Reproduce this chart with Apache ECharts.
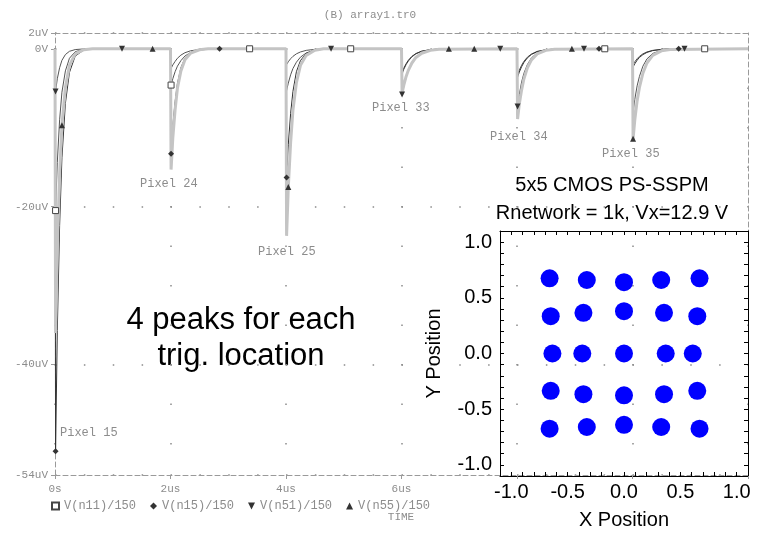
<!DOCTYPE html>
<html><head><meta charset="utf-8">
<script src="https://cdn.jsdelivr.net/npm/echarts@6/dist/echarts.min.js"></script>
<style>html,body{margin:0;padding:0;background:#fff}#c{width:762px;height:539px}</style>
</head><body><div id="c"></div>
<script>
// time axis (us)
const timeUs = [
  0,0.01,0.04,0.08,0.12,0.18,0.25,0.35,0.5,0.65,
  2,2.01,2.04,2.08,2.12,2.18,2.25,2.35,2.5,2.65,
  4,4.01,4.04,4.08,4.12,4.18,4.25,4.35,4.5,4.65,
  6,6.01,6.04,6.08,6.12,6.18,6.25,6.35,6.5,6.65,
  8,8.01,8.04,8.08,8.12,8.18,8.25,8.35,8.5,8.65,
  10,10.01,10.04,10.08,10.12,10.18,10.25,10.35,10.5,10.65,
  12
];
// voltages (uV)
const vN11 = [
  0,-20.5,-14.4,-9.0,-5.5,-2.8,-1.2,-0.37,-0.06,0,
  0,-4.6,-3.8,-2.9,-2.2,-1.5,-0.92,-0.46,-0.17,-0.05,
  0,-5.3,-4.35,-3.3,-2.5,-1.7,-1.06,-0.53,-0.2,-0.05,
  0,-3.2,-2.6,-2.0,-1.54,-1.02,-0.64,-0.32,-0.12,-0.03,
  0,-3.3,-2.7,-2.08,-1.58,-1.06,-0.66,-0.33,-0.12,-0.03,
  0,-2.0,-1.64,-1.26,-0.96,-0.64,-0.4,-0.2,-0.07,-0.02,
  0
];
const vN15 = [
  0,-51,-35.7,-22.4,-13.8,-6.9,-3.0,-0.92,-0.15,0,
  0,-13.3,-9.8,-6.7,-4.4,-2.4,-1.2,-0.47,-0.1,0,
  0,-16.3,-12.1,-8.2,-5.4,-2.9,-1.5,-0.57,-0.13,0,
  0,-3.0,-2.46,-1.9,-1.44,-0.96,-0.6,-0.3,-0.11,-0.03,
  0,-3.6,-2.95,-2.27,-1.73,-1.15,-0.72,-0.36,-0.13,-0.04,
  0,-2.3,-1.9,-1.45,-1.1,-0.74,-0.46,-0.23,-0.085,-0.02,
  0
];
const vN51 = [
  0,-5.4,-3.8,-2.4,-1.46,-0.73,-0.32,-0.1,-0.02,0,
  0,-2.5,-2.05,-1.6,-1.2,-0.8,-0.5,-0.25,-0.09,-0.02,
  0,-2.0,-1.64,-1.26,-0.96,-0.64,-0.4,-0.2,-0.07,-0.02,
  0,-5.8,-4.75,-3.65,-2.8,-1.86,-1.16,-0.58,-0.21,-0.06,
  0,-7.3,-5.8,-4.2,-3.1,-2.0,-1.15,-0.53,-0.17,-0.05,
  0,-8.1,-6.4,-4.7,-3.5,-2.2,-1.28,-0.59,-0.19,-0.06,
  0
];
const vN55 = [
  0,-36,-25.2,-15.8,-9.7,-4.9,-2.1,-0.65,-0.11,0,
  0,-15.3,-11.3,-7.7,-5.0,-2.8,-1.4,-0.54,-0.12,0,
  0,-23.7,-17.5,-11.9,-7.8,-4.3,-2.1,-0.83,-0.19,0,
  0,-5.6,-4.6,-3.5,-2.7,-1.8,-1.1,-0.56,-0.2,-0.06,
  0,-8.9,-7.0,-5.2,-3.8,-2.4,-1.4,-0.65,-0.2,-0.06,
  0,-11.4,-9.0,-6.6,-4.9,-3.1,-1.8,-0.83,-0.26,-0.08,
  0
];
// trace markers [time us, uV]
const marksN11 = [[0.01,-20.5],[2.01,-4.6],[3.37,0],[5.12,0],[9.52,0],[11.25,0]];
const marksN15 = [[0.01,-51],[2.01,-13.3],[2.85,0],[4.01,-16.3],[9.42,0],[10.8,0]];
const marksN51 = [[0.01,-5.4],[1.16,0],[4.78,0],[6.01,-5.8],[7.71,0],[8.01,-7.3],[9.16,0],[10.9,0]];
const marksN55 = [[0.12,-9.7],[1.69,0],[4.04,-17.5],[6.82,0],[7.26,0],[8.95,0],[10.01,-11.4]];
const seriesNames = ['V(n11)/150','V(n15)/150','V(n51)/150','V(n55)/150'];
const yTickValues = [2, 0, -20, -40, -54];
const xLabelMax = 6;
// inset: reconstructed positions
const posX = [-0.66,-0.33,0.0,0.33,0.67, -0.65,-0.36,0,0.355,0.65, -0.635,-0.37,0,0.37,0.61, -0.65,-0.36,0,0.355,0.65, -0.66,-0.33,0,0.33,0.67];
const posY = [0.675,0.66,0.64,0.66,0.675, 0.335,0.365,0.38,0.365,0.335, 0,0,0,0,0, -0.335,-0.365,-0.375,-0.365,-0.335, -0.675,-0.66,-0.64,-0.66,-0.675];
const insetTicks = [-1,-0.5,0,0.5,1];
const pixelLabels = ['Pixel 15','Pixel 24','Pixel 25','Pixel 33','Pixel 34','Pixel 35'];

const zip = (a) => timeUs.map((t,i)=>[t, a[i]]);
const mono = '"Liberation Mono", "DejaVu Sans Mono", monospace';
const sans = '"Liberation Sans", Arial, sans-serif';
const gray = '#8c8c8c';

const chart = echarts.init(document.getElementById('c'));
const lineStyles = [
  {color:'#555', width:1},
  {color:'#333', width:1},
  {color:'#555', width:1},
  {color:'#c4c4c4', width:3}
];
const vals = [vN11, vN15, vN51, vN55];
const marks = [marksN11, marksN15, marksN51, marksN55];
const syms = ['rect','diamond','triangle','triangle'];
const rots = [0,0,180,0];
const legendIcons = ['rect','diamond','path://M0,0L10,0L5,10Z','triangle'];

const series = [];
vals.forEach((v,i)=>{
  series.push({
    type:'line', name: seriesNames[i]+' trace', xAxisIndex:0, yAxisIndex:0,
    data: zip(v), showSymbol:false, lineStyle: lineStyles[i], z: i===3?4:3,
    silent:true
  });
});
marks.forEach((m,i)=>{
  series.push({
    type:'scatter', name: seriesNames[i], xAxisIndex:0, yAxisIndex:0,
    data: m, symbol: syms[i], symbolRotate: rots[i], symbolSize: 6, z:5,
    itemStyle: i===0 ? {color:'#fff', borderColor:'#444', borderWidth:1, opacity:1} : {color:'#333', opacity:1}
  });
});
series.push({
  type:'scatter', name:'positions', xAxisIndex:2, yAxisIndex:2,
  data: posX.map((x,i)=>[x,posY[i]]), symbolSize:18, itemStyle:{color:'#0000ff', opacity:1}, z:6
});

const pixelPos = [[60,433],[140,184],[258,252],[372,108],[490,137],[602,154]];
const graphics = pixelLabels.map((t,i)=>({
  type:'text', x:pixelPos[i][0], y:pixelPos[i][1],
  style:{text:t, fill:gray, font:'12px '+mono, verticalAlign:'middle', align:'left'}
}));
graphics.push({type:'text', x:370, y:15, style:{text:'(B) array1.tr0', fill:gray, font:'11px '+mono, align:'center', verticalAlign:'middle'}});
graphics.push({type:'text', x:401, y:517, style:{text:'TIME', fill:gray, font:'11px '+mono, align:'center', verticalAlign:'middle'}});
graphics.push({type:'text', x:241, y:302, style:{text:'4 peaks for each\ntrig. location', fill:'#000', font:'31px '+sans, align:'center', lineHeight:36}});
graphics.push({type:'text', x:612, y:185, style:{text:'5x5 CMOS PS-SSPM', fill:'#000', font:'20px '+sans, align:'center', verticalAlign:'middle'}});
graphics.push({type:'text', x:612, y:213, style:{text:'Rnetwork = 1k, Vx=12.9 V', fill:'#000', font:'20px '+sans, align:'center', verticalAlign:'middle'}});

const dashed = {color:'#9a9a9a', type:[5,3], width:1};
const option = {
  animation:false,
  backgroundColor:'#fff',
  grid:[
    {left:55, top:33, width:693, height:442},
    {left:500, top:231, width:248, height:245}
  ],
  legend:{
    data: seriesNames.map((n,i)=>({name:n, icon:legendIcons[i]})),
    left:46, top:495, itemWidth:7, itemHeight:7, itemGap:14,
    textStyle:{fontFamily:mono, fontSize:12, color:gray},
    selectedMode:false
  },
  xAxis:[
    {gridIndex:0, type:'value', min:0, max:12, interval:2, position:'bottom',
     axisLine:{onZero:false, lineStyle:dashed}, axisTick:{length:4, lineStyle:{color:'#9a9a9a'}},
     axisLabel:{fontFamily:mono, fontSize:11, color:gray, margin:9,
       formatter:(v)=> v===0 ? '0s' : (v<=xLabelMax ? v+'us' : '')},
     splitLine:{show:true, lineStyle:{color:'#8a8a8a', width:1.5, type:[1.5,38], dashOffset:24.5}}},
    {gridIndex:0, type:'value', min:0, max:12, position:'top',
     axisLine:{onZero:false, lineStyle:dashed}, axisTick:{show:false}, axisLabel:{show:false}, splitLine:{show:false}},
    {gridIndex:1, type:'value', min:-1.1, max:1.1, interval:0.1, position:'bottom',
     axisLine:{onZero:false, lineStyle:{color:'#000'}}, axisTick:{inside:true, length:4, lineStyle:{color:'#000'}},
     axisLabel:{customValues:insetTicks, formatter:(v)=>v.toFixed(1), fontFamily:sans, fontSize:20, color:'#000', margin:6},
     splitLine:{show:false},
     name:'X Position', nameLocation:'middle', nameGap:34, nameTextStyle:{fontFamily:sans, fontSize:20, color:'#000'}},
    {gridIndex:1, type:'value', min:-1.1, max:1.1, interval:0.1, position:'top',
     axisLine:{onZero:false, lineStyle:{color:'#000'}}, axisTick:{inside:true, length:4, lineStyle:{color:'#000'}},
     axisLabel:{show:false}, splitLine:{show:false}}
  ],
  yAxis:[
    {gridIndex:0, type:'value', min:-54, max:2, position:'left',
     axisLine:{show:true, onZero:false, lineStyle:dashed}, axisTick:{show:true, customValues:yTickValues, length:4, lineStyle:{color:'#9a9a9a'}},
     axisLabel:{customValues:yTickValues, fontFamily:mono, fontSize:11, color:gray, margin:7,
       formatter:(v)=> v===0 ? '0V' : v+'uV'},
     splitLine:{show:true, lineStyle:{color:'#8a8a8a', width:1.5, type:[1.5,27.375]}}},
    {gridIndex:0, type:'value', min:-54, max:2, position:'right',
     axisLine:{show:true, onZero:false, lineStyle:dashed}, axisTick:{show:false}, axisLabel:{show:false}, splitLine:{show:false}},
    {gridIndex:1, type:'value', min:-1.1, max:1.1, interval:0.1, position:'left',
     axisLine:{show:true, onZero:false, lineStyle:{color:'#000'}}, axisTick:{show:true, inside:true, length:4, lineStyle:{color:'#000'}},
     axisLabel:{customValues:insetTicks, formatter:(v)=>v.toFixed(1), fontFamily:sans, fontSize:20, color:'#000', margin:8},
     splitLine:{show:false},
     name:'Y Position', nameLocation:'middle', nameGap:56, nameTextStyle:{fontFamily:sans, fontSize:20, color:'#000'}},
    {gridIndex:1, type:'value', min:-1.1, max:1.1, interval:0.1, position:'right',
     axisLine:{show:true, onZero:false, lineStyle:{color:'#000'}}, axisTick:{show:true, inside:true, length:4, lineStyle:{color:'#000'}},
     axisLabel:{show:false}, splitLine:{show:false}}
  ],
  graphic: graphics,
  series: series
};
chart.setOption(option);
</script>
</body></html>
